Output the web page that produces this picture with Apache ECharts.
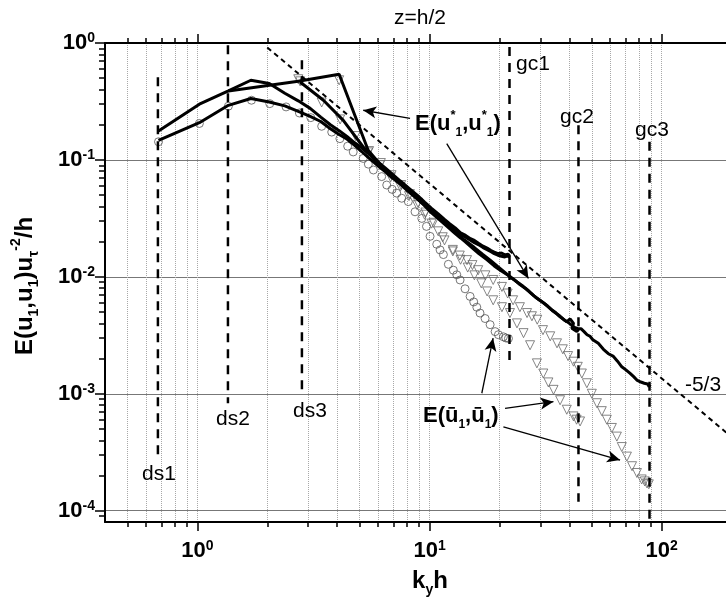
<!DOCTYPE html>
<html><head><meta charset="utf-8">
<script src="https://cdn.jsdelivr.net/npm/echarts@6/dist/echarts.min.js"></script>
<style>html,body{margin:0;padding:0;background:#fff}#c{width:726px;height:604px}</style>
</head><body><div id="c"></div>
<script>
// ---------- data (k_y h , E) ----------
const lineGc1Upper = [[0.68,0.177],[1.02,0.300],[1.36,0.389],[1.70,0.480],[2.04,0.450],[2.38,0.372],[2.72,0.320],[3.06,0.276],[3.40,0.232],[3.74,0.200],[4.08,0.178],[4.42,0.158],[4.76,0.140],[5.10,0.127],[5.44,0.114],[5.78,0.102],[6.12,0.093],[6.46,0.085],[6.80,0.078],[7.48,0.066],[8.16,0.057],[8.84,0.050],[9.52,0.0435],[10.2,0.0385],[10.9,0.0345],[11.6,0.031],[12.2,0.0285],[12.9,0.0262],[13.6,0.0238],[14.3,0.0226],[15.0,0.0212],[15.6,0.0205],[16.3,0.0193],[17.0,0.0183],[17.7,0.0176],[18.4,0.0168],[19.0,0.0163],[19.7,0.0158],[20.4,0.0160],[21.1,0.0154],[21.8,0.0156],[22.1,0.0152]];
const lineGc1Lower = [[0.68,0.147],[1.02,0.208],[1.36,0.293],[1.70,0.335],[2.04,0.313],[2.38,0.290],[2.72,0.260],[3.06,0.236],[3.40,0.213],[3.74,0.185],[4.08,0.165],[4.42,0.150],[4.76,0.133],[5.10,0.118],[5.44,0.105],[5.78,0.095],[6.12,0.086],[6.46,0.079],[6.80,0.072],[7.48,0.062],[8.16,0.053],[8.84,0.0465],[9.52,0.041],[10.2,0.036],[10.9,0.0325],[11.6,0.0292],[12.2,0.0272],[12.9,0.0247],[13.6,0.0232],[14.3,0.0218],[15.0,0.0206],[15.6,0.0196],[16.3,0.0188],[17.0,0.0178],[17.7,0.0171],[18.4,0.0164],[19.0,0.0158],[19.7,0.0153],[20.4,0.0150],[21.1,0.0148],[21.8,0.0151],[22.1,0.0146]];
const lineGc2 = [[1.36,0.389],[2.72,0.470],[4.08,0.540],[5.44,0.121],[6.12,0.092],[6.80,0.074],[7.48,0.063],[8.16,0.054],[8.84,0.047],[9.52,0.0405],[10.2,0.0352],[10.9,0.0315],[11.6,0.0282],[12.2,0.0258],[12.9,0.0234],[13.6,0.0215],[14.3,0.0198],[15.0,0.0182],[16.3,0.0158],[17.7,0.0140],[19.0,0.0124],[20.4,0.0112],[21.8,0.0103],[23.1,0.0095],[24.5,0.0086],[25.8,0.0080],[27.2,0.0073],[28.6,0.0067],[29.9,0.0063],[31.3,0.0059],[32.6,0.0055],[34.0,0.0051],[35.4,0.0048],[36.5,0.00455],[39.0,0.00412],[40.3,0.00437],[41.7,0.0040],[41.0,0.00363],[43.1,0.0034],[43.8,0.00355]];
const lineGc3 = [[2.77,0.464],[3.49,0.324],[4.25,0.218],[5.18,0.129],[5.8,0.101],[6.46,0.082],[7.14,0.069],[7.82,0.059],[8.5,0.051],[9.18,0.044],[9.86,0.039],[10.5,0.0345],[11.2,0.031],[11.9,0.0278],[12.6,0.0252],[13.3,0.0228],[14.0,0.021],[14.7,0.0195],[15.6,0.0178],[16.9,0.0156],[18.3,0.0138],[19.7,0.0122],[21.1,0.0109],[22.5,0.0098],[23.9,0.0090],[25.3,0.0083],[26.7,0.0076],[28.1,0.0069],[29.5,0.0064],[30.9,0.0060],[32.3,0.0056],[33.7,0.0052],[35.1,0.0049],[36.5,0.0046],[37.9,0.0043],[39.3,0.0041],[40.7,0.0039],[42.1,0.0037],[43.5,0.0036],[44.9,0.0036],[46.3,0.0034],[47.7,0.0032],[49.1,0.0031],[50.5,0.0029],[53.3,0.0027],[56.1,0.0024],[58.9,0.0022],[61.7,0.0021],[64.5,0.0019],[67.3,0.0017],[70.1,0.0016],[72.9,0.0015],[75.7,0.0014],[78.5,0.0013],[81.3,0.00126],[84.1,0.00123],[86.9,0.00121],[88.3,0.00115],[88.6,0.00120]];
const circlesGc1 = [[0.68,0.143],[1.02,0.205],[1.36,0.288],[1.71,0.324],[2.05,0.303],[2.41,0.284],[2.75,0.252],[3.08,0.230],[3.43,0.194],[3.79,0.173],[4.11,0.152],[4.44,0.131],[4.69,0.117],[5.18,0.103],[5.45,0.092],[5.73,0.082],[6.22,0.072],[6.54,0.061],[6.9,0.056],[7.22,0.052],[7.59,0.047],[8.1,0.044],[8.66,0.036],[9.26,0.0316],[9.7,0.027],[10.05,0.0222],[10.74,0.0190],[11.1,0.0170],[11.47,0.0155],[12.05,0.0128],[12.66,0.0114],[13.1,0.0104],[13.54,0.0094],[14.22,0.0079],[14.95,0.0068],[15.5,0.0061],[15.98,0.0055],[16.5,0.0049],[17.35,0.0044],[18.23,0.0039],[19.16,0.0034],[19.8,0.0032],[20.8,0.00307],[21.3,0.0030],[21.87,0.00297]];
const trianglesGc2 = [[2.72,0.49],[4.08,0.48],[5.44,0.116],[6.12,0.090],[6.80,0.071],[7.48,0.059],[8.16,0.049],[8.84,0.041],[9.52,0.034],[10.2,0.0285],[10.9,0.0245],[11.6,0.0205],[12.6,0.0165],[13.6,0.0140],[14.6,0.0120],[15.6,0.0103],[16.7,0.0088],[17.7,0.0075],[18.8,0.0063],[20.5,0.0055],[22.2,0.0049],[23.8,0.0040],[25.4,0.0033],[27.1,0.0026],[29.0,0.00182],[30.9,0.00149],[32.5,0.00125],[34.2,0.00108],[36.5,0.00088],[39.0,0.00073],[41.7,0.00064],[43.0,0.00060],[44.5,0.00058]];
const trianglesGc3 = [[2.77,0.47],[3.43,0.31],[4.12,0.222],[4.8,0.160],[5.49,0.119],[6.17,0.094],[6.86,0.074],[7.55,0.061],[8.23,0.051],[8.92,0.043],[9.6,0.0355],[10.4,0.0290],[11.4,0.0218],[12.6,0.0170],[13.5,0.0152],[14.5,0.0139],[15.3,0.0126],[16.2,0.0114],[17.4,0.0103],[18.8,0.0094],[20.5,0.0082],[21.7,0.0072],[22.9,0.0063],[24.5,0.0055],[26.3,0.0049],[27.6,0.0046],[29.1,0.0043],[30.8,0.0035],[33.1,0.0031],[35.4,0.0027],[37.5,0.0024],[39.5,0.0021],[41.7,0.00188],[43.5,0.0017],[45.3,0.00149],[47.6,0.00123],[50.0,0.00100],[52.6,0.00083],[55.2,0.00071],[58.0,0.00060],[61.0,0.00051],[64.1,0.00043],[67.3,0.00035],[70.8,0.00029],[74.5,0.00024],[78.2,0.00021],[82.0,0.000185],[84.5,0.000178],[86.4,0.000171],[88.0,0.000168]];
const slopeLine = [[2.0,0.915],[200,0.000427]];
const dsK = [0.676, 1.354, 2.82];
const dsTop = [0.51, 0.956, 0.711];
const dsBottom = [0.00030, 0.00083, 0.00104];
const gcK = [22.1, 43.8, 88.6];
const gcTop = [0.924, 0.198, 0.143];
const gcBottom = [0.00194, 0.000119, 0.00008];
const arrows = [
  [[8.24,0.227],[5.18,0.266]],
  [[11.86,0.138],[26.66,0.0097]],
  [[16.79,0.00101],[18.78,0.00299]],
  [[21.15,0.00075],[34.17,0.000855]],
  [[20.8,0.000522],[66.2,0.000271]]
];
const xMajorTicks = [1, 10, 100];
const xMinorTicks = [0.5,0.6,0.7,0.8,0.9,2,3,4,5,6,7,8,9,20,30,40,50,60,70,80,90];
const yMajorTicks = [1e-4, 1e-3, 1e-2, 1e-1, 1];
const yMinorTicks = [9e-5,2e-4,3e-4,4e-4,5e-4,6e-4,7e-4,8e-4,9e-4,2e-3,3e-3,4e-3,5e-3,6e-3,7e-3,8e-3,9e-3,2e-2,3e-2,4e-2,5e-2,6e-2,7e-2,8e-2,9e-2,0.2,0.3,0.4,0.5,0.6,0.7,0.8,0.9];
const X_MIN = 0.4, X_MAX = 200, Y_MIN = 8e-5, Y_MAX = 1;

// ---------- chart ----------
const FONT = '"Liberation Sans", Arial, Helvetica, sans-serif';
const lg = Math.log10;
const chart = echarts.init(document.getElementById('c'), null, {renderer: 'canvas'});

function powLabel(v) {
  const e = Math.round(lg(v));
  if (Math.abs(v / Math.pow(10, e) - 1) > 1e-6) return '';
  return '{b|10}{s|' + e + '}';
}
const labelRich = {
  b: {fontFamily: FONT, fontWeight: 'bold', fontSize: 22, lineHeight: 24, color: '#000'},
  s: {fontFamily: FONT, fontWeight: 'bold', fontSize: 14, lineHeight: 6, verticalAlign: 'top', color: '#000'}
};
function helperX(pos, ticks, len, split, showLine) {
  return {
    type: 'value', position: pos, min: lg(X_MIN), max: lg(X_MAX),
    axisLine: {show: !!showLine, onZero: false, lineStyle: {color: '#000', width: 2}},
    axisTick: {show: true, length: len, customValues: ticks.map(lg), lineStyle: {color: '#000', width: 1.5}},
    axisLabel: {show: false},
    splitLine: split ? {show: true, lineStyle: split} : {show: false}
  };
}
function helperY(pos, ticks, len, split) {
  return {
    type: 'value', position: pos, min: lg(Y_MIN), max: lg(Y_MAX),
    axisLine: {show: false, onZero: false},
    axisTick: {show: true, length: len, customValues: ticks.map(lg), lineStyle: {color: '#000', width: 1.5}},
    axisLabel: {show: false},
    splitLine: split ? {show: true, lineStyle: split} : {show: false}
  };
}
const vGrid = {color: '#a8a8a8', type: 'dotted', width: 1};
const hGrid = {color: '#777', type: 'solid', width: 1};

const dashedVertical = [];
dsK.forEach((k, i) => dashedVertical.push([[k, dsTop[i]], [k, dsBottom[i]]]));
gcK.forEach((k, i) => dashedVertical.push([[k, gcTop[i]], [k, gcBottom[i]]]));

const series = [
  {type: 'scatter', data: circlesGc1, symbol: 'circle', symbolSize: 8,
   itemStyle: {color: 'rgba(255,255,255,0)', borderColor: '#555', borderWidth: 1}, z: 2},
  {type: 'scatter', data: trianglesGc2, symbol: 'triangle', symbolRotate: 180, symbolSize: 9,
   itemStyle: {color: 'rgba(255,255,255,0)', borderColor: '#666', borderWidth: 1}, z: 2},
  {type: 'scatter', data: trianglesGc3, symbol: 'triangle', symbolRotate: 180, symbolSize: 9,
   itemStyle: {color: 'rgba(255,255,255,0)', borderColor: '#666', borderWidth: 1}, z: 2},
];
[lineGc1Upper, lineGc1Lower, lineGc2, lineGc3].forEach(d => series.push({
  type: 'line', data: d, showSymbol: false, symbol: 'none', lineStyle: {color: '#000', width: 3}, z: 3
}));
dashedVertical.forEach(d => series.push({
  type: 'line', data: d, showSymbol: false, symbol: 'none',
  lineStyle: {color: '#000', width: 2.5, type: [9, 7]}, z: 4
}));
series.push({
  type: 'line', data: slopeLine, showSymbol: false, symbol: 'none',
  lineStyle: {color: '#000', width: 2, type: [5, 4]}, z: 4,
  markLine: {
    silent: true, animation: false, symbol: ['none', 'arrow'], symbolSize: [9, 13],
    label: {show: false}, lineStyle: {color: '#000', width: 1.3, type: 'solid'},
    data: arrows.map(a => [{coord: a[0]}, {coord: a[1]}])
  }
});

const txt = (x, y, text, extra) => ({
  type: 'text', x: x, y: y, z: 100,
  style: Object.assign({text: text, fill: '#000', fontFamily: FONT, fontSize: 21, align: 'center', verticalAlign: 'middle'}, extra || {})
});
const annRich = {
  b: {fontFamily: FONT, fontWeight: 'bold', fontSize: 22, lineHeight: 30, color: '#000'},
  p: {fontFamily: FONT, fontWeight: 'bold', fontSize: 13, lineHeight: 18, verticalAlign: 'top', color: '#000'},
  d: {fontFamily: FONT, fontWeight: 'bold', fontSize: 12, lineHeight: 6, verticalAlign: 'bottom', color: '#000'}
};
const titleRich = {
  b: {fontFamily: FONT, fontWeight: 'bold', fontSize: 24, lineHeight: 32, color: '#000'},
  p: {fontFamily: FONT, fontWeight: 'bold', fontSize: 14, lineHeight: 10, verticalAlign: 'top', color: '#000'},
  d: {fontFamily: FONT, fontWeight: 'bold', fontSize: 14, lineHeight: 6, verticalAlign: 'bottom', color: '#000'}
};

chart.setOption({
  animation: false,
  backgroundColor: '#fff',
  grid: {left: 105, top: 43, right: -5.6, bottom: 82, containLabel: false, outerBoundsMode: 'none'},
  xAxis: [
    {type: 'log', logBase: 10, min: X_MIN, max: X_MAX, position: 'bottom',
     axisLine: {show: true, onZero: false, lineStyle: {color: '#000', width: 2}},
     axisTick: {show: false}, splitLine: {show: false},
     axisLabel: {show: true, interval: 0, margin: 17, formatter: powLabel, rich: labelRich}},
    helperX('bottom', xMajorTicks, 9, vGrid, false),
    helperX('bottom', xMinorTicks, 5, vGrid, false),
    helperX('top', xMajorTicks, 9, null, true),
    helperX('top', xMinorTicks, 5, null, false)
  ],
  yAxis: [
    {type: 'log', logBase: 10, min: Y_MIN, max: Y_MAX, position: 'left',
     axisLine: {show: true, onZero: false, lineStyle: {color: '#000', width: 2}},
     axisTick: {show: false}, splitLine: {show: false},
     axisLabel: {show: true, interval: 0, margin: 10, formatter: powLabel, rich: labelRich}},
    helperY('left', yMajorTicks, 10, hGrid),
    helperY('left', yMinorTicks, 6, null)
  ],
  series: series,
  graphic: [
    txt(420, 18, 'z=h/2'),
    txt(159, 474, 'ds1'), txt(233, 419, 'ds2'), txt(310, 411, 'ds3'),
    txt(533, 64, 'gc1'), txt(577, 117, 'gc2'), txt(652, 130, 'gc3'),
    txt(703, 385, '-5/3'),
    txt(415, 124, '{b|E(u}{p|*}{d|1}{b|,u}{p|*}{d|1}{b|)}', {align: 'left', rich: annRich}),
    txt(423, 416, '{b|E(\u016b}{d|1}{b|,\u016b}{d|1}{b|)}', {align: 'left', rich: annRich}),
    txt(430, 581, '{b|k}{d|y}{b|h}', {rich: titleRich}),
    {type: 'text', x: 25, y: 286, rotation: Math.PI / 2, z: 100,
     style: {text: '{b|E(u}{d|1}{b|,u}{d|1}{b|)u}{d|\u03c4}{p|-2}{b|/h}', rich: titleRich, fill: '#000',
             fontFamily: FONT, align: 'center', verticalAlign: 'middle'}}
  ]
});
</script></body></html>
